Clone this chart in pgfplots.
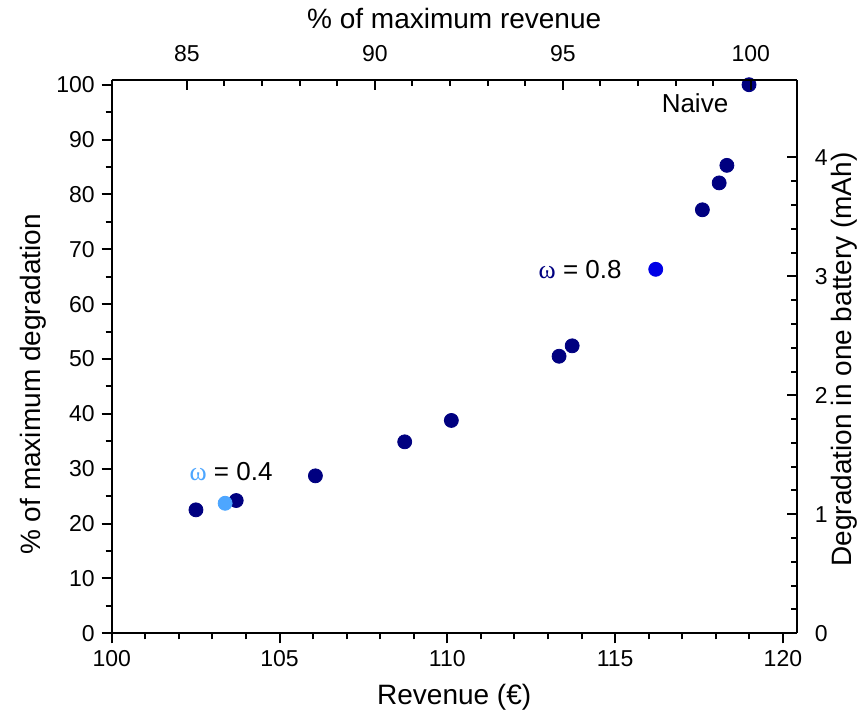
\documentclass[border=0pt]{standalone}
\usepackage{pgfplots}
\pgfplotsset{compat=1.18}
\usepackage{fontspec}
\setmainfont{Liberation Sans}
\newfontfamily\omegafont{Liberation Serif}
\definecolor{navyd}{RGB}{0,0,128}
\definecolor{lblue}{RGB}{77,166,255}
\definecolor{mblue}{RGB}{0,0,230}
\begin{document}
\begin{tikzpicture}
\useasboundingbox (-55.85pt,-43.85pt) rectangle (376.15pt,316.65pt);
\pgfplotsset{
  common/.style={
    width=342.5pt, height=276.65pt, scale only axis,
    at={(0pt,0pt)}, anchor=south west,
    major tick length=5pt, minor tick length=3pt,
    axis line style={line width=1pt, -},
    tick style={line width=1pt, black},
    every tick label/.append style={font=\fontsize{11.5}{13}\selectfont},
    /pgf/number format/assume math mode=true,
    label style={font=\fontsize{14}{16}\selectfont},
  }
}
\begin{axis}[common,
  xmin=100, xmax=120.41, ymin=0, ymax=100.86,
  axis x line*=bottom, axis y line*=left,
  xtick={100,105,110,115,120}, minor x tick num=4,
  ytick={0,10,...,100}, minor y tick num=1,
  tick align=outside,
  xlabel={Revenue (€)},
  ylabel={\% of maximum degradation},
  xlabel style={at={(axis description cs:0.5,-0.1157)}, anchor=center},
  ylabel style={at={(axis description cs:-0.1148,0.45)}, anchor=center},
]
\addplot[only marks, mark=*, mark size=3.5pt, color=navyd] coordinates {
(102.51,22.5) (103.71,24.2) (106.07,28.7) (108.73,34.9) (110.12,38.8)
(113.33,50.5) (113.72,52.4) (117.60,77.2) (118.10,82.1) (118.33,85.3)
(118.99,100.0)
};
\addplot[only marks, mark=*, mark size=3.5pt, color=lblue] coordinates {(103.38,23.7)};
\addplot[only marks, mark=*, mark size=3.5pt, color=mblue] coordinates {(116.21,66.35)};
\node[anchor=west, inner sep=0pt, font=\fontsize{13}{15}\selectfont] at (axis cs:102.31,29.45) {{\omegafont\color{lblue}ω} = 0.4};
\node[anchor=west, inner sep=0pt, font=\fontsize{13}{15}\selectfont] at (axis cs:112.71,66.35) {{\omegafont\color{navyd}ω} = 0.8};
\node[anchor=center, inner sep=0pt, font=\fontsize{13}{15}\selectfont] at (axis cs:117.38,96.6) {Naive};
\end{axis}
\begin{axis}[common,
  xmin=83, xmax=101.22, ymin=0, ymax=4.65,
  axis x line*=top, axis y line*=right,
  xtick={85,90,95,100}, minor x tick num=4,
  ytick={0,1,2,3,4}, minor y tick num=4,
  tick align=inside,
  xticklabel style={yshift=5.5pt},
  yticklabel style={xshift=5.5pt},
  xlabel={\% of maximum revenue},
  ylabel={Degradation in one battery (mAh)},
  xlabel style={at={(axis description cs:0.5,1.112)}, anchor=center},
  ylabel style={at={(axis description cs:1.0700,0.495)}, anchor=center},
]
\end{axis}
\end{tikzpicture}
\end{document}
